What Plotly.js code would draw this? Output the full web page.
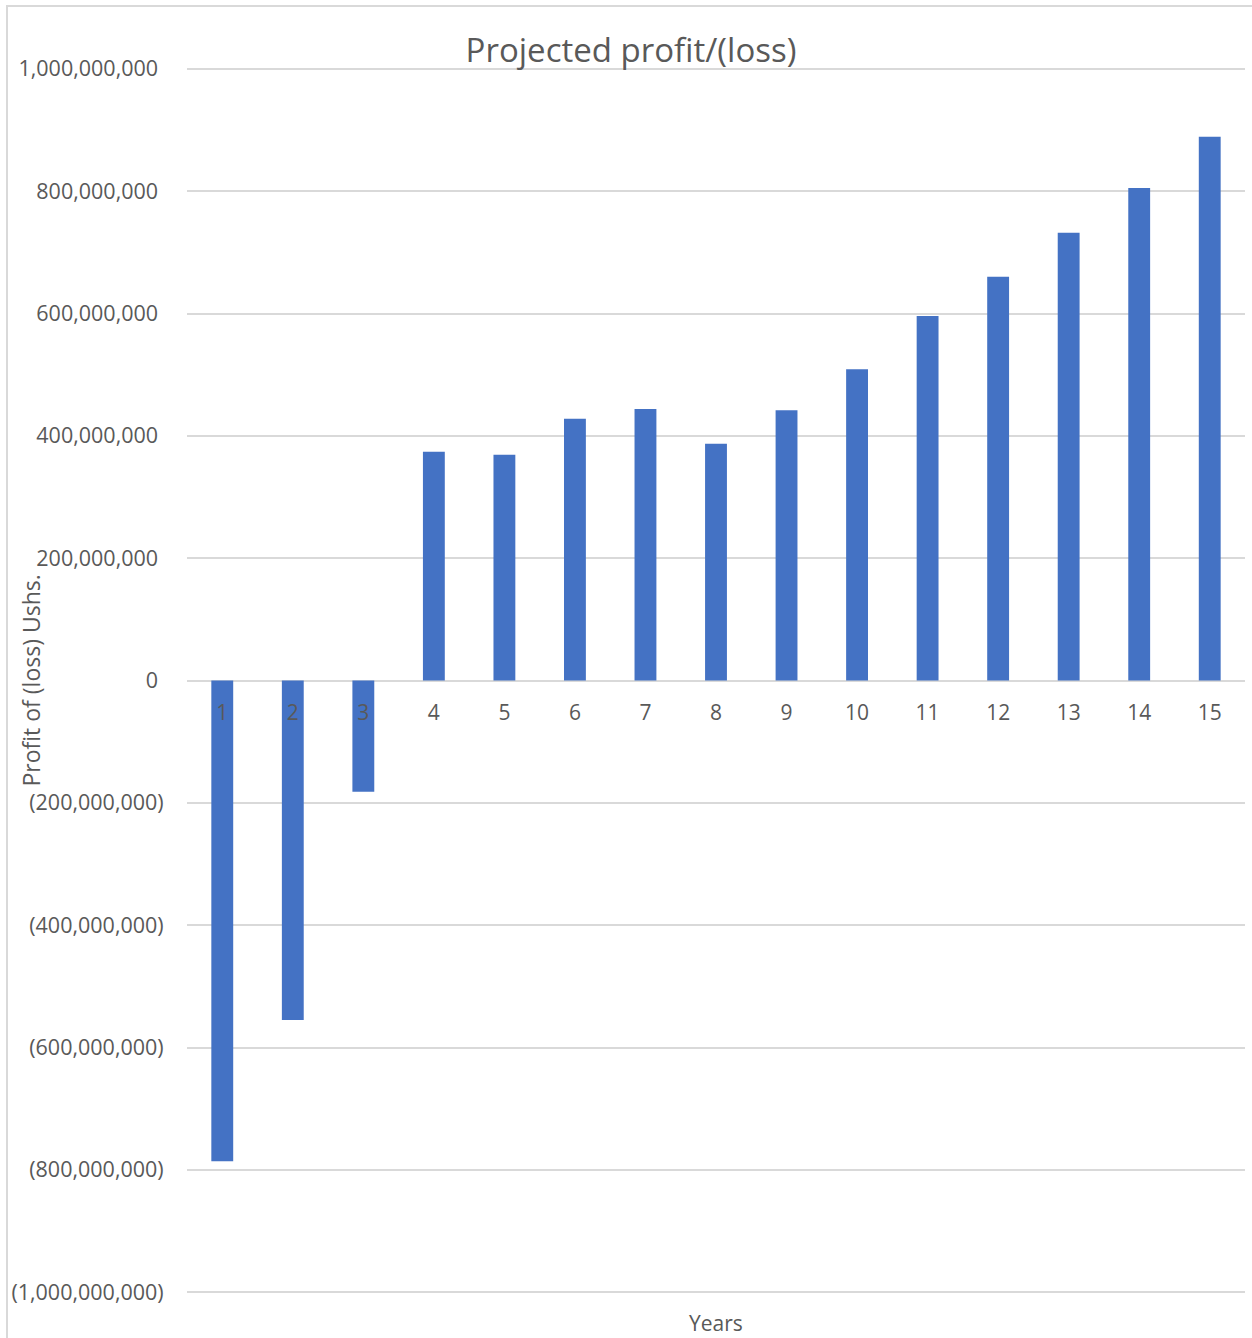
<!DOCTYPE html>
<html>
<head>
<meta charset="utf-8">
<script src="https://cdn.plot.ly/plotly-3.0.1.min.js"></script>
<style>
  html, body { margin: 0; padding: 0; background: #ffffff; }
  #wrap { position: relative; width: 1252px; height: 1338px; overflow: hidden; }
  #frame { position: absolute; left: 6px; top: 5px; width: 1260px; height: 1350px; border: 2px solid #d9d9d9; box-sizing: border-box; }
  #chart { position: absolute; left: 0; top: 0; width: 1252px; height: 1338px; }
</style>
</head>
<body>
<div id="wrap">
  <div id="frame"></div>
  <div id="chart"></div>
</div>
<script>
const years = ['1','2','3','4','5','6','7','8','9','10','11','12','13','14','15'];
const profit = [-786000000, -555000000, -182000000, 374000000, 369000000, 428000000, 444000000,
                387000000, 442000000, 509000000, 596000000, 660000000, 732000000, 805000000, 889000000];
const yTickVals = [1000000000, 800000000, 600000000, 400000000, 200000000, 0,
                   -200000000, -400000000, -600000000, -800000000, -1000000000];
const yTickText = ['1,000,000,000\u00a0', '800,000,000\u00a0', '600,000,000\u00a0', '400,000,000\u00a0',
                   '200,000,000\u00a0', '0\u00a0', '(200,000,000)', '(400,000,000)', '(600,000,000)',
                   '(800,000,000)', '(1,000,000,000)'];

const textColor = '#595959';
const fontFamily = '"Open Sans", "Liberation Sans", sans-serif';

const trace = {
  type: 'bar',
  x: years,
  y: profit,
  marker: { color: '#4472C4', line: { width: 0 } },
  hoverinfo: 'x+y'
};

const plotH = 1338 - 67 - 44;

const layout = {
  width: 1252,
  height: 1338,
  margin: { l: 187, r: 7, t: 67, b: 44, pad: 0 },
  paper_bgcolor: 'rgba(0,0,0,0)',
  plot_bgcolor: 'rgba(0,0,0,0)',
  font: { family: fontFamily, color: textColor, size: 21 },
  showlegend: false,
  bargap: 0.69,
  title: {
    text: 'Projected profit/(loss)',
    font: { family: fontFamily, size: 33, color: textColor },
    x: 631 / 1252, xref: 'container', xanchor: 'center',
    y: 1 - 50 / 1338, yref: 'container', yanchor: 'middle'
  },
  xaxis: {
    type: 'category',
    anchor: 'free',
    position: 0.5,
    showgrid: false,
    showline: false,
    zeroline: false,
    ticks: 'outside',
    ticklen: 13,
    tickcolor: 'rgba(0,0,0,0)',
    tickfont: { family: fontFamily, size: 21, color: textColor }
  },
  yaxis: {
    range: [-1003000000, 1003000000],
    tickvals: yTickVals,
    ticktext: yTickText,
    showgrid: true,
    gridcolor: '#d9d9d9',
    gridwidth: 2,
    zeroline: true,
    zerolinecolor: '#d9d9d9',
    zerolinewidth: 2,
    showline: false,
    ticks: 'outside',
    ticklen: 18,
    tickcolor: 'rgba(0,0,0,0)',
    tickfont: { family: fontFamily, size: 21.5, color: textColor }
  },
  annotations: [{
    text: 'Profit of (loss) Ushs.',
    xref: 'paper', yref: 'paper',
    x: (30 - 187) / 1058, y: 0.5,
    xanchor: 'center', yanchor: 'middle',
    textangle: -90,
    showarrow: false,
    font: { family: fontFamily, size: 23, color: textColor }
  }, {
    text: 'Years',
    xref: 'paper', yref: 'paper',
    x: 0.5, y: -29 / plotH,
    xanchor: 'center', yanchor: 'middle',
    showarrow: false,
    borderpad: 0,
    font: { family: fontFamily, size: 21, color: textColor }
  }]
};

Plotly.newPlot('chart', [trace], layout, { displayModeBar: false, staticPlot: true });
</script>
</body>
</html>
